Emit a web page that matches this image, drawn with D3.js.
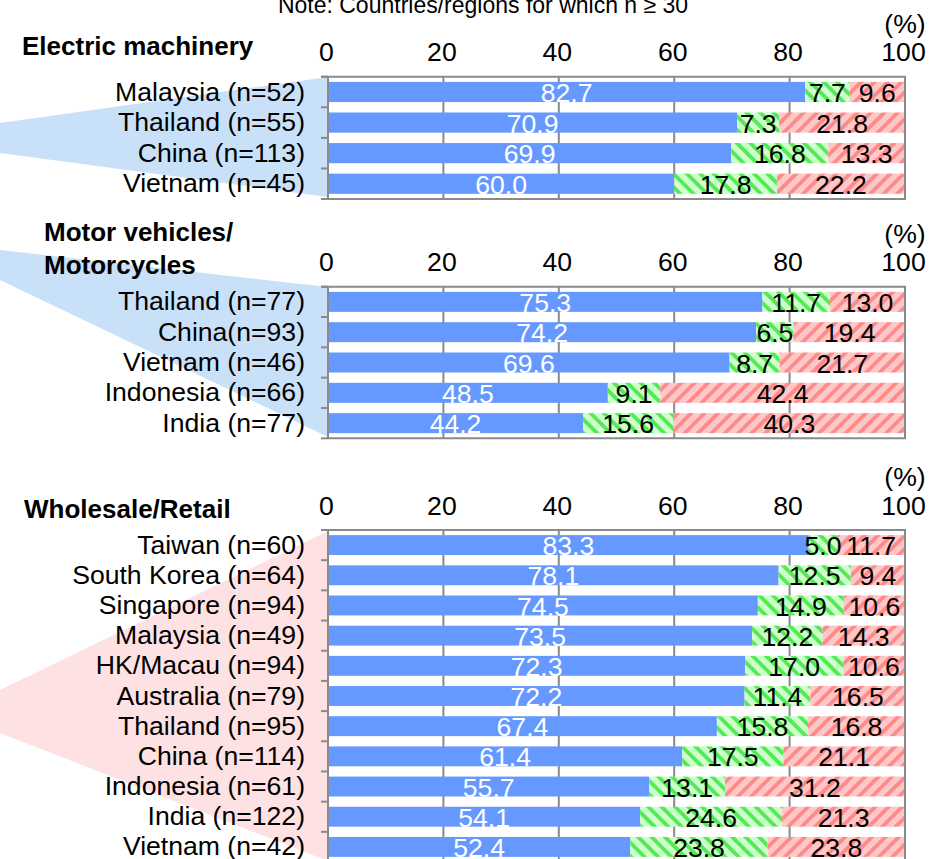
<!DOCTYPE html>
<html><head><meta charset="utf-8">
<script src="https://cdn.jsdelivr.net/npm/d3@7"></script>
<style>body{margin:0;background:#fff} text{font-family:"Liberation Sans",Arial,Helvetica,sans-serif}</style>
</head><body><svg id="c" width="929" height="859"></svg>
<script>
// ---- data ----
const tickValues = [0, 20, 40, 60, 80, 100];
const noteText = "Note: Countries/regions for which n \u2265 30";

const elecTitle = ["Electric machinery"];
const elecCats = ["Malaysia (n=52)", "Thailand (n=55)", "China (n=113)", "Vietnam (n=45)"];
const elecBlue = [82.7, 70.9, 69.9, 60.0];
const elecGreen = [7.7, 7.3, 16.8, 17.8];
const elecRed = [9.6, 21.8, 13.3, 22.2];

const motorTitle = ["Motor vehicles/", "Motorcycles"];
const motorCats = ["Thailand (n=77)", "China(n=93)", "Vietnam (n=46)", "Indonesia (n=66)", "India (n=77)"];
const motorBlue = [75.3, 74.2, 69.6, 48.5, 44.2];
const motorGreen = [11.7, 6.5, 8.7, 9.1, 15.6];
const motorRed = [13.0, 19.4, 21.7, 42.4, 40.3];

const wholeTitle = ["Wholesale/Retail"];
const wholeCats = ["Taiwan (n=60)", "South Korea (n=64)", "Singapore (n=94)", "Malaysia (n=49)", "HK/Macau (n=94)",
  "Australia (n=79)", "Thailand (n=95)", "China (n=114)", "Indonesia (n=61)", "India (n=122)", "Vietnam (n=42)"];
const wholeBlue = [83.3, 78.1, 74.5, 73.5, 72.3, 72.2, 67.4, 61.4, 55.7, 54.1, 52.4];
const wholeGreen = [5.0, 12.5, 14.9, 12.2, 17.0, 11.4, 15.8, 17.5, 13.1, 24.6, 23.8];
const wholeRed = [11.7, 9.4, 10.6, 14.3, 10.6, 16.5, 16.8, 21.1, 31.2, 21.3, 23.8];

// ---- layout ----
const FONT = 26.6;
const svg = d3.select("#c");
const x = d3.scaleLinear().domain([0, 100]).range([328, 905]);

const defs = svg.append("defs");
function stripes(id, bg, fg, angle) {
  const s = 9.5;
  const p = defs.append("pattern").attr("id", id).attr("patternUnits", "userSpaceOnUse")
    .attr("width", s).attr("height", s).attr("patternTransform", `rotate(${angle})`);
  p.append("rect").attr("width", s).attr("height", s).attr("fill", bg);
  p.append("rect").attr("width", 3.8).attr("height", s).attr("fill", fg);
}
stripes("pg", "#ccffcc", "#55ea55", -45);
stripes("pr", "#ffc8c8", "#ff8a8a", 45);

const panels = [
  { title: elecTitle, cats: elecCats, blue: elecBlue, green: elecGreen, red: elecRed,
    top: 76.7, bottom: 199, titleX: 22, titleY: 55, wedge: [[0,123],[328,77],[328,197],[0,153]], wedgeColor: "#c8e1f9" },
  { title: motorTitle, cats: motorCats, blue: motorBlue, green: motorGreen, red: motorRed,
    top: 286.7, bottom: 438.3, titleX: 44, titleY: 241, wedge: [[0,250],[328,287],[328,437],[0,280]], wedgeColor: "#c8e1f9" },
  { title: wholeTitle, cats: wholeCats, blue: wholeBlue, green: wholeGreen, red: wholeRed,
    top: 530, bottom: 862, titleX: 24, titleY: 518, wedge: [[0,690],[328,531],[328,861],[0,733]], wedgeColor: "#fde1e3" }
];

// note
svg.append("text").attr("x", 483).attr("y", 13).attr("text-anchor", "middle")
  .attr("font-size", 23).attr("fill", "#000").text(noteText);

panels.forEach(P => {
  const g = svg.append("g");
  // wedge
  g.append("path").attr("d", d3.line()(P.wedge) + "Z").attr("fill", P.wedgeColor);

  // title
  const t = g.append("text").attr("x", P.titleX).attr("y", P.titleY)
    .attr("font-size", 26).attr("font-weight", "bold").attr("fill", "#000");
  P.title.forEach((s, i) => t.append("tspan").attr("x", P.titleX).attr("dy", i ? 33 : 0).text(s));

  const y = d3.scaleBand().domain(P.cats).range([P.top, P.bottom]).paddingInner(0.34).paddingOuter(0.17);
  const step = y.step();

  // gridlines
  g.selectAll(".grid").data(tickValues.slice(1, -1)).join("line")
    .attr("x1", d => x(d)).attr("x2", d => x(d)).attr("y1", P.top).attr("y2", P.bottom)
    .attr("stroke", "#8a8a8a").attr("stroke-width", 2);

  // stacked bars
  const rows = P.cats.map((c, i) => ({ c, segs: [
    { v: P.blue[i], s: 0, fill: "#6699ff", tc: "#fff" },
    { v: P.green[i], s: P.blue[i], fill: "url(#pg)", tc: "#000" },
    { v: P.red[i], s: P.blue[i] + P.green[i], fill: "url(#pr)", tc: "#000" }
  ]}));
  const rg = g.selectAll(".row").data(rows).join("g");
  rg.selectAll("rect").data(d => d.segs.map(s => ({ ...s, c: d.c }))).join("rect")
    .attr("x", d => x(d.s)).attr("width", d => x(d.s + d.v) - x(d.s))
    .attr("y", d => y(d.c)).attr("height", y.bandwidth()).attr("fill", d => d.fill);
  rg.selectAll("text").data(d => d.segs.map(s => ({ ...s, c: d.c }))).join("text")
    .attr("x", d => x(d.s + d.v / 2)).attr("y", d => y(d.c) + y.bandwidth() / 2)
    .attr("dy", "0.38em").attr("text-anchor", "middle").attr("font-size", FONT)
    .attr("fill", d => d.tc).text(d => d.v.toFixed(1));

  // frame: top, right, bottom
  g.append("path").attr("d", `M${x(0) - 7},${P.top}H${x(100)}V${P.bottom}H${x(0)}`)
    .attr("fill", "none").attr("stroke", "#8a8a8a").attr("stroke-width", 2);

  // left axis with boundary ticks
  g.append("line").attr("x1", x(0)).attr("x2", x(0)).attr("y1", P.top).attr("y2", P.bottom)
    .attr("stroke", "#8a8a8a").attr("stroke-width", 2);
  g.selectAll(".bt").data(d3.range(P.cats.length + 1)).join("line")
    .attr("x1", x(0) - 7).attr("x2", x(0)).attr("y1", i => P.top + i * step).attr("y2", i => P.top + i * step)
    .attr("stroke", "#8a8a8a").attr("stroke-width", 2);

  // category labels
  const ax = g.append("g").attr("transform", `translate(${x(0)},0)`)
    .call(d3.axisLeft(y).tickSize(0).tickPadding(23));
  ax.select(".domain").remove();
  ax.selectAll("text").attr("font-size", FONT).attr("fill", "#000").attr("font-family", null).attr("dy", "0.32em");

  // top value axis
  const tx = g.append("g").attr("transform", `translate(-2,${P.top})`)
    .call(d3.axisTop(x).tickValues(tickValues).tickSize(0).tickPadding(15.5).tickFormat(d3.format("d")));
  tx.select(".domain").remove();
  tx.selectAll("text").attr("font-size", FONT).attr("fill", "#000").attr("font-family", null);

  // (%) unit
  g.append("text").attr("x", x(100)).attr("y", P.top - 44).attr("text-anchor", "middle")
    .attr("font-size", FONT).attr("fill", "#000").text("(%)");
});
</script>
</body></html>
